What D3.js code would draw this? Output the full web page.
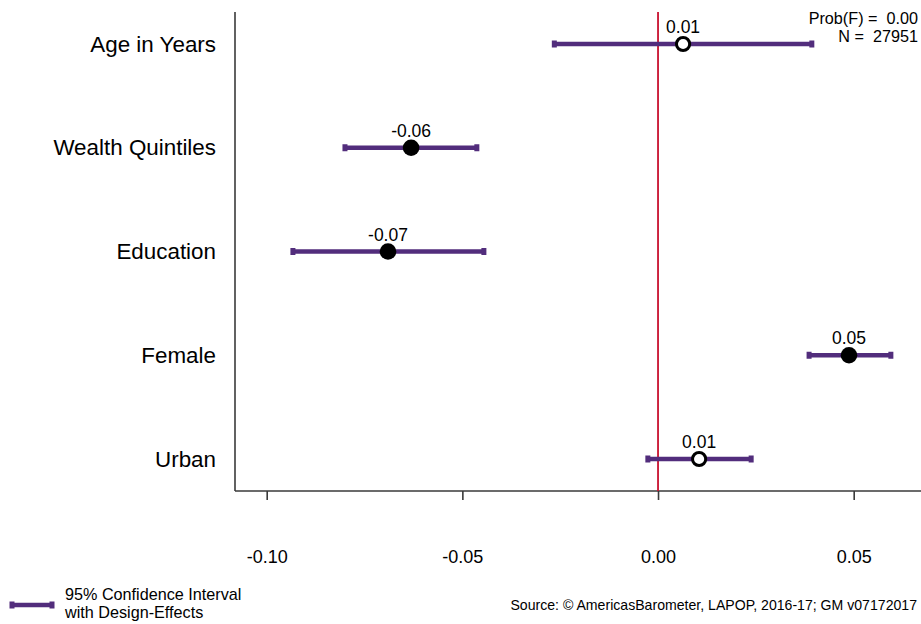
<!DOCTYPE html>
<html>
<head>
<meta charset="utf-8">
<script src="https://cdn.jsdelivr.net/npm/d3@7"></script>
<style>
  html, body { margin: 0; padding: 0; background: #fff; }
  svg { display: block; font-family: "Liberation Sans", Arial, Helvetica, sans-serif; }
  .pre { white-space: pre; }
</style>
</head>
<body>
<svg id="chart" width="921" height="624"></svg>
<script>
// Coefficients with 95% confidence intervals (design-effects)
const categories = ["Age in Years", "Wealth Quintiles", "Education", "Female", "Urban"];
const estimates  = [0.0064, -0.0631, -0.0690, 0.0488, 0.0105];
const ciLower    = [-0.0265, -0.0800, -0.0933, 0.0386, -0.0026];
const ciUpper    = [0.0393, -0.0463, -0.0445, 0.0595, 0.0238];
const significant = [false, true, true, true, false];
const xTicks     = [-0.10, -0.05, 0.00, 0.05];
const statsLines = ["Prob(F) =  0.00", "N =  27951"];
const legendLines = ["95% Confidence Interval", "with Design-Effects"];
const sourceText = "Source: \u00A9 AmericasBarometer, LAPOP, 2016-17; GM v07172017";

const rows = categories.map((c, i) => ({
  name: c, est: estimates[i], lo: ciLower[i], hi: ciUpper[i], sig: significant[i]
}));

// Number format with a plain hyphen as the minus sign
const fmt = d3.formatLocale({ decimal: ".", thousands: ",", grouping: [3], currency: ["", ""], minus: "-" })
  .format(".2f");

const svg = d3.select("#chart");
const plot = { left: 235, right: 921, top: 12, bottom: 491 };

const x = d3.scaleLinear()
  .domain([-0.1081, 0.0672])
  .range([plot.left, plot.right]);

const y = d3.scalePoint()
  .domain(categories)
  .range([44, 459]);

const ciColor = "#522d7c";
const axisColor = "#3a3a3a";

// Axes
const xAxis = svg.append("g")
  .attr("transform", `translate(0,${plot.bottom})`)
  .call(d3.axisBottom(x).tickValues(xTicks).tickFormat(fmt)
    .tickSize(9).tickSizeOuter(0).tickPadding(50));
xAxis.select(".domain").attr("stroke", axisColor).attr("stroke-width", 1.6)
  .attr("d", `M${plot.left},0H${plot.right}`);
xAxis.selectAll(".tick line").attr("stroke", axisColor).attr("stroke-width", 1.6);
xAxis.selectAll(".tick text").attr("fill", "#000").attr("font-size", 18)
  .attr("font-family", "Liberation Sans, Arial, sans-serif");

const yAxis = svg.append("g")
  .attr("transform", `translate(${plot.left},0)`)
  .call(d3.axisLeft(y).tickSize(0).tickPadding(19));
yAxis.select(".domain").attr("stroke", axisColor).attr("stroke-width", 1.6)
  .attr("d", `M0,${plot.top}V${plot.bottom}`);
yAxis.selectAll(".tick text").attr("fill", "#000").attr("font-size", 22.4)
  .attr("font-family", "Liberation Sans, Arial, sans-serif");

// Zero reference line
svg.append("line")
  .attr("x1", x(0)).attr("x2", x(0))
  .attr("y1", plot.top).attr("y2", plot.bottom)
  .attr("stroke", "#c8102e").attr("stroke-width", 1.8);

// Confidence intervals with end caps
const g = svg.append("g");
const rowG = g.selectAll("g.row").data(rows).join("g").attr("class", "row");

rowG.append("line")
  .attr("x1", d => x(d.lo)).attr("x2", d => x(d.hi))
  .attr("y1", d => y(d.name)).attr("y2", d => y(d.name))
  .attr("stroke", ciColor).attr("stroke-width", 4.5);

["lo", "hi"].forEach(k => {
  rowG.append("rect")
    .attr("x", d => x(d[k]) - 2.5).attr("y", d => y(d.name) - 3.5)
    .attr("width", 5).attr("height", 7)
    .attr("fill", ciColor);
});

// Point estimates: filled when significant, hollow otherwise
rowG.append("circle")
  .attr("cx", d => x(d.est)).attr("cy", d => y(d.name))
  .attr("r", d => d.sig ? 8.3 : 6.6)
  .attr("fill", d => d.sig ? "#000" : "#fff")
  .attr("stroke", "#000")
  .attr("stroke-width", d => d.sig ? 0 : 3);

rowG.append("text")
  .attr("x", d => x(d.est)).attr("y", d => y(d.name) - 11)
  .attr("text-anchor", "middle").attr("font-size", 17.5).attr("fill", "#000")
  .text(d => fmt(d.est));

// Model statistics
svg.append("g").selectAll("text").data(statsLines).join("text")
  .attr("class", "pre")
  .attr("x", 918).attr("y", (d, i) => 24 + i * 18)
  .attr("text-anchor", "end").attr("font-size", 16.2).attr("fill", "#000")
  .text(d => d);

// Legend
const leg = svg.append("g");
leg.append("line").attr("x1", 12).attr("x2", 52).attr("y1", 605).attr("y2", 605)
  .attr("stroke", ciColor).attr("stroke-width", 4.5);
[12, 52].forEach(px => leg.append("rect")
  .attr("x", px - 2.5).attr("y", 601.5).attr("width", 5).attr("height", 7).attr("fill", ciColor));
leg.selectAll("text").data(legendLines).join("text")
  .attr("x", 65).attr("y", (d, i) => 600 + i * 18)
  .attr("font-size", 16.2).attr("fill", "#000")
  .text(d => d);

// Source note
svg.append("text")
  .attr("x", 917).attr("y", 610)
  .attr("text-anchor", "end").attr("font-size", 14.1).attr("fill", "#000")
  .text(sourceText);
</script>
</body>
</html>
